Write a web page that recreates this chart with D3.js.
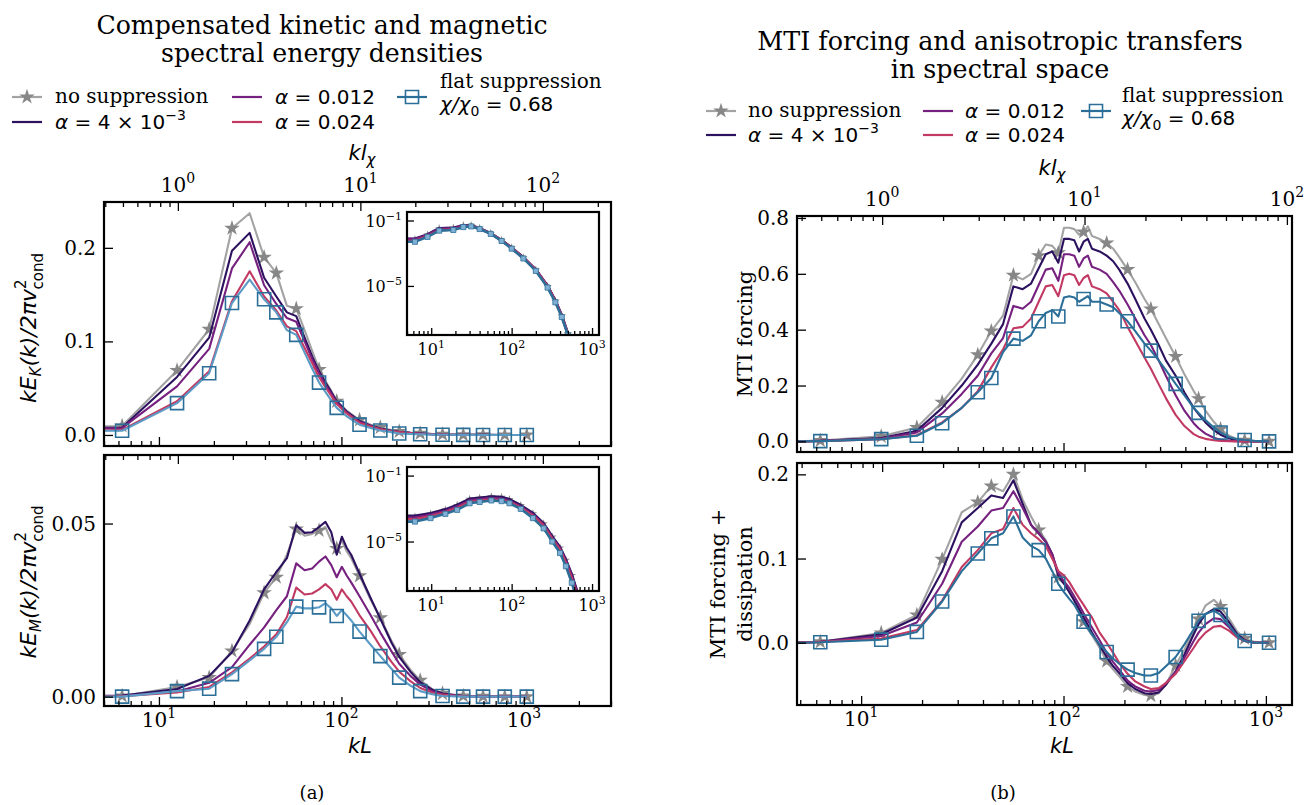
<!DOCTYPE html>
<html><head><meta charset="utf-8">
<script src="https://cdn.jsdelivr.net/npm/d3@7"></script>
<style>body{margin:0;background:#fff}svg{display:block}</style>
</head><body>
<svg id="c" width="1315" height="805"></svg>
<script>
// ---------------- DATA ----------------
// kL = 2*pi*n ; kL / (k l_chi) ratio for the secondary axis
const KL_PER_KLCHI = 12.7;
const seriesLabels = ["no suppression", "α = 4 × 10⁻³", "α = 0.012", "α = 0.024", "flat suppression χ/χ0 = 0.68"];
const markerN = [1,2,3,4,6,7,9,12,15,20,26,33,43,57,74,95,125,165];

// (a) top: compensated kinetic spectrum
const nK = [0.75,1,2,3,4,5,6,7,8,9,10,11,12,13,14,15,17,20,23,26,30,33,38,43,50,57,74,95,125,165];
const keNoSup = [0.009,0.0096,0.069,0.113,0.221,0.237,0.190,0.173,0.138,0.135,0.112,0.090,0.070,0.058,0.047,0.036,0.026,0.016,0.011,0.008,0.005,0.0038,0.0025,0.0017,0.001,0.0006,0.0002,0.0001,0,0];
const keA1 = [0.0075,0.008,0.062,0.104,0.197,0.216,0.168,0.148,0.131,0.127,0.104,0.084,0.068,0.056,0.046,0.036,0.025,0.015,0.010,0.007,0.0045,0.0033,0.0022,0.0015,0.0009,0.0005,0.0002,0.0001,0,0];
const keA2 = [0.007,0.0075,0.052,0.092,0.178,0.206,0.160,0.140,0.125,0.121,0.100,0.081,0.066,0.054,0.044,0.035,0.024,0.014,0.0095,0.0067,0.0043,0.0032,0.0021,0.0014,0.0009,0.0005,0.0002,0.0001,0,0];
const keA3 = [0.005,0.0055,0.036,0.068,0.143,0.175,0.148,0.133,0.116,0.111,0.093,0.077,0.062,0.051,0.042,0.033,0.023,0.013,0.009,0.006,0.004,0.003,0.002,0.0013,0.0008,0.0005,0.0001,0,0,0];
const keFlat = [0.0045,0.0045,0.034,0.066,0.141,0.166,0.145,0.131,0.112,0.107,0.088,0.071,0.056,0.046,0.037,0.029,0.020,0.011,0.0075,0.0048,0.003,0.0016,0.0011,0.0007,0.0004,0.0002,0.0001,0,0,0];

// (a) bottom: compensated magnetic spectrum
const nM = [0.75,1,2,3,4,5,6,7,8,9,10,11,12,13,14,15,16,17,18,20,23,26,30,33,38,43,50,57,74,95,125,165];
const kmNoSup = [0.0001,0.0002,0.0028,0.0055,0.0132,0.021,0.030,0.0345,0.041,0.0484,0.0465,0.047,0.048,0.049,0.045,0.0428,0.045,0.042,0.040,0.0349,0.028,0.0228,0.016,0.0122,0.0078,0.0047,0.0022,0.0009,0.0002,0.0001,0,0];
const kmA1 = [0.0002,0.0003,0.0022,0.0060,0.0128,0.022,0.031,0.036,0.040,0.0495,0.0473,0.0475,0.049,0.0505,0.0475,0.041,0.0462,0.043,0.041,0.0355,0.0285,0.0225,0.0155,0.0115,0.0072,0.0042,0.002,0.0009,0.0002,0.0001,0,0];
const kmA2 = [0.0001,0.0002,0.0015,0.004,0.0085,0.015,0.020,0.025,0.029,0.0385,0.0365,0.037,0.039,0.0405,0.038,0.0345,0.0375,0.035,0.033,0.029,0.0235,0.0185,0.013,0.0095,0.006,0.0035,0.0016,0.0007,0.0002,0,0,0];
const kmA3 = [0.0001,0.0001,0.0012,0.0028,0.007,0.011,0.0145,0.018,0.023,0.0315,0.0295,0.0298,0.031,0.0325,0.031,0.028,0.031,0.029,0.0275,0.0235,0.019,0.0145,0.010,0.0072,0.0045,0.0025,0.0012,0.0005,0.0001,0,0,0];
const kmFlat = [0,0,0.0016,0.0023,0.0065,0.0105,0.0138,0.0173,0.0215,0.026,0.0255,0.0255,0.0258,0.027,0.0255,0.0233,0.025,0.0235,0.022,0.0188,0.015,0.0117,0.008,0.0055,0.0032,0.0016,0.0007,0.0002,0,0,0,0];

// (b) grid
const nF = [0.75,1,2,3,4,5,6,7,8,9,10,11,12,13,14,15,16,17,18,19,20,21,22,24,26,28,30,33,36,40,43,47,51,57,63,70,74,80,88,95,105,115,125,140,165];
// (b) top: MTI forcing
const mtiNoSup = [0,0.003,0.018,0.05,0.14,0.225,0.31,0.395,0.45,0.595,0.58,0.60,0.665,0.705,0.70,0.675,0.765,0.765,0.76,0.74,0.75,0.77,0.735,0.725,0.71,0.69,0.66,0.615,0.57,0.51,0.474,0.42,0.37,0.304,0.24,0.18,0.153,0.11,0.07,0.044,0.02,0.008,0.004,0.001,0];
const mtiA1 = [0,0.002,0.012,0.038,0.12,0.2,0.275,0.35,0.42,0.555,0.545,0.565,0.62,0.67,0.68,0.64,0.725,0.725,0.72,0.68,0.715,0.725,0.69,0.68,0.665,0.645,0.615,0.565,0.51,0.44,0.40,0.345,0.29,0.235,0.175,0.12,0.098,0.068,0.04,0.024,0.01,0.004,0.0015,0,0];
const mtiA2 = [0,0.002,0.01,0.032,0.10,0.17,0.235,0.315,0.37,0.485,0.475,0.50,0.56,0.615,0.62,0.575,0.67,0.67,0.665,0.625,0.655,0.665,0.625,0.615,0.60,0.57,0.54,0.49,0.44,0.38,0.345,0.29,0.235,0.165,0.11,0.065,0.047,0.028,0.013,0.006,0.002,0.0005,0,0,0];
const mtiA3 = [0,0.001,0.008,0.022,0.068,0.12,0.18,0.265,0.33,0.405,0.41,0.44,0.50,0.555,0.56,0.52,0.595,0.60,0.595,0.56,0.585,0.595,0.555,0.545,0.53,0.50,0.47,0.41,0.36,0.30,0.26,0.205,0.155,0.095,0.055,0.026,0.017,0.009,0.004,0.0015,0.0005,0,0,0,0];
const mtiFlat = [0,0.001,0.008,0.02,0.065,0.12,0.176,0.227,0.32,0.368,0.36,0.38,0.43,0.46,0.47,0.447,0.515,0.52,0.515,0.50,0.51,0.52,0.50,0.50,0.49,0.48,0.46,0.43,0.395,0.35,0.325,0.29,0.255,0.206,0.165,0.12,0.102,0.076,0.05,0.032,0.015,0.008,0.005,0.002,0];
// (b) bottom: MTI forcing + dissipation
const dsNoSup = [0,0.001,0.0116,0.033,0.099,0.155,0.167,0.186,0.18,0.20,0.17,0.15,0.134,0.122,0.105,0.078,0.072,0.062,0.05,0.037,0.025,0.016,0.009,-0.006,-0.022,-0.032,-0.04,-0.052,-0.058,-0.062,-0.063,-0.06,-0.05,-0.027,-0.008,0.014,0.028,0.044,0.051,0.043,0.028,0.013,0.005,0.001,0];
const dsA1 = [0,0.001,0.01,0.03,0.085,0.143,0.16,0.175,0.172,0.193,0.165,0.14,0.13,0.12,0.105,0.08,0.07,0.06,0.05,0.04,0.03,0.021,0.012,-0.003,-0.017,-0.028,-0.036,-0.048,-0.055,-0.06,-0.061,-0.059,-0.05,-0.034,-0.014,0.01,0.022,0.034,0.040,0.037,0.024,0.01,0.003,0,0];
const dsA2 = [0,0.001,0.008,0.024,0.07,0.12,0.138,0.157,0.16,0.18,0.16,0.14,0.13,0.12,0.105,0.083,0.073,0.065,0.055,0.045,0.035,0.026,0.018,0.003,-0.012,-0.023,-0.032,-0.045,-0.052,-0.057,-0.058,-0.056,-0.048,-0.035,-0.018,0.002,0.012,0.022,0.029,0.028,0.018,0.007,0.002,0,0];
const dsA3 = [0,0.001,0.005,0.015,0.05,0.09,0.11,0.13,0.135,0.16,0.14,0.13,0.123,0.115,0.10,0.085,0.08,0.072,0.062,0.053,0.045,0.037,0.03,0.012,0.0,-0.012,-0.024,-0.037,-0.046,-0.052,-0.055,-0.054,-0.048,-0.037,-0.022,-0.006,0.003,0.012,0.019,0.02,0.014,0.006,0.002,0,0];
const dsFlat = [0,0.0005,0.0036,0.0128,0.049,0.085,0.106,0.124,0.13,0.15,0.125,0.115,0.11,0.10,0.085,0.07,0.06,0.052,0.045,0.035,0.025,0.017,0.01,-0.002,-0.011,-0.019,-0.025,-0.032,-0.036,-0.039,-0.039,-0.036,-0.028,-0.017,-0.002,0.016,0.026,0.034,0.038,0.033,0.02,0.008,0.002,0,0];

// insets: log10 of spectra (not compensated)
const insetKinKL = [5,6.28,9,12.57,18.85,25.1,31.4,40,55,75,100,140,200,280,350,420,500,580];
const ikNoSup = [-2.15,-2.15,-1.88,-1.49,-1.45,-1.30,-1.30,-1.47,-1.78,-2.20,-2.66,-3.27,-4.02,-5.02,-5.92,-6.82,-7.92,-9];
const ikA1 = [-2.12,-2.12,-1.85,-1.47,-1.44,-1.31,-1.31,-1.48,-1.79,-2.21,-2.66,-3.26,-4.00,-5.00,-5.90,-6.80,-7.90,-9];
const ikA2 = [-2.14,-2.14,-1.88,-1.52,-1.48,-1.33,-1.32,-1.49,-1.80,-2.22,-2.67,-3.27,-4.01,-5.01,-5.91,-6.81,-7.91,-9];
const ikA3 = [-2.25,-2.25,-1.96,-1.60,-1.55,-1.38,-1.33,-1.50,-1.80,-2.22,-2.68,-3.28,-4.03,-5.03,-5.95,-6.85,-7.95,-9];
const ikFlat = [-2.30,-2.30,-2.00,-1.62,-1.58,-1.40,-1.36,-1.52,-1.82,-2.25,-2.72,-3.32,-4.08,-5.10,-6.00,-6.90,-8.00,-9];
const insetMagKL = [5,6.28,9.8,15,21,30,40,56,75,94,130,184,250,320,400,473,560,650,720];
const imNoSup = [-3.50,-3.50,-3.32,-3.08,-2.80,-2.43,-2.36,-2.28,-2.31,-2.45,-2.81,-3.30,-3.92,-4.72,-5.38,-6.12,-7.05,-8.05,-9];
const imA1 = [-3.44,-3.44,-3.28,-3.05,-2.78,-2.41,-2.35,-2.27,-2.30,-2.44,-2.80,-3.28,-3.90,-4.70,-5.35,-6.10,-7.00,-8.00,-9];
const imA2 = [-3.55,-3.55,-3.38,-3.15,-2.88,-2.50,-2.44,-2.37,-2.40,-2.53,-2.88,-3.36,-3.98,-4.78,-5.43,-6.18,-7.10,-8.10,-9];
const imA3 = [-3.65,-3.65,-3.47,-3.22,-2.96,-2.60,-2.52,-2.46,-2.48,-2.60,-2.95,-3.44,-4.06,-4.86,-5.52,-6.30,-7.25,-8.30,-9];
const imFlat = [-3.79,-3.79,-3.58,-3.32,-3.08,-2.68,-2.60,-2.51,-2.55,-2.68,-3.02,-3.58,-4.20,-5.00,-5.70,-6.50,-7.50,-8.60,-9];

// ---------------- STYLE ----------------
const SERIF = "'DejaVu Serif', serif", SANS = "'DejaVu Sans', sans-serif";
const C = {gray:"#a3a3a3", star:"#878787", a1:"#2c115f", a2:"#76207f", a3:"#c23a63", flat:"#2b6f99", flatL:"#5b9bc6"};

const svg = d3.select("#c");
let clipId = 0;

function logTicks(dom){
  const lo = Math.floor(Math.log10(dom[0])), hi = Math.ceil(Math.log10(dom[1]));
  const maj=[], min=[];
  for(let e=lo;e<=hi;e++) for(let m=1;m<=9;m++){
    const v = m*Math.pow(10,e);
    if(v>=dom[0]*0.9999 && v<=dom[1]*1.0001) (m===1?maj:min).push(v);
  }
  return {maj,min};
}
function supLabel(sel, base, exp, fs, efs, edy){
  sel.text(null);
  sel.append("tspan").text(base);
  sel.append("tspan").attr("dy",edy).attr("font-size",efs).text(exp);
}
function drawTicks(g, axisFn, scale, vals, size, yOff){
  const a = axisFn(scale).tickValues(vals).tickSizeInner(size).tickSizeOuter(0).tickFormat(()=> "");
  const ag = g.append("g").attr("transform", yOff).call(a);
  ag.select(".domain").remove();
  ag.selectAll("line").attr("stroke","#000").attr("stroke-width",1.3);
  ag.selectAll("text").remove();
  return ag;
}
function starSym(size){ return d3.symbol(d3.symbolStar, size)(); }
function sqSym(size){ return d3.symbol(d3.symbolSquare, size)(); }

function drawPanel(o){
  const g = svg.append("g");
  const x = d3.scaleLog().domain(o.xdom).range([o.x0,o.x1]);
  const y = d3.scaleLinear().domain(o.ydom).range([o.y1,o.y0]);
  const xt = d3.scaleLog().domain([o.xdom[0]/KL_PER_KLCHI, o.xdom[1]/KL_PER_KLCHI]).range([o.x0,o.x1]);
  const id = "clip"+(clipId++);
  svg.append("clipPath").attr("id",id).append("rect").attr("x",o.x0).attr("y",o.y0).attr("width",o.x1-o.x0).attr("height",o.y1-o.y0);
  const pg = g.append("g").attr("clip-path",`url(#${id})`);
  const line = d3.line().x(d=>x(2*Math.PI*d[0])).y(d=>y(d[1]));
  o.series.forEach(s=>{
    const pts = o.grid.map((n,i)=>[n,s.vals[i]]);
    pg.append("path").attr("d",line(pts)).attr("fill","none").attr("stroke",s.lineColor)
      .attr("stroke-width",2.1).attr("stroke-linejoin","round").attr("opacity",s.opacity||1);
    if(s.marker){
      const mp = pts.filter(p=>markerN.includes(p[0]));
      pg.selectAll(null).data(mp).enter().append("path")
        .attr("transform",p=>`translate(${x(2*Math.PI*p[0])},${y(p[1])})`)
        .attr("d", s.marker==="star"? starSym(75) : sqSym(170))
        .attr("fill", s.marker==="star"? C.star : "none")
        .attr("stroke", s.marker==="star"? "none" : C.flat)
        .attr("stroke-width",1.6);
    }
  });
  // ticks
  const lt = logTicks(o.xdom), ltt = logTicks(xt.domain());
  drawTicks(g, d3.axisBottom, x, lt.maj, -9, `translate(0,${o.y1})`);
  drawTicks(g, d3.axisBottom, x, lt.min, -5, `translate(0,${o.y1})`);
  drawTicks(g, d3.axisTop, xt, ltt.maj, -9, `translate(0,${o.y0})`);
  drawTicks(g, d3.axisTop, xt, ltt.min, -5, `translate(0,${o.y0})`);
  drawTicks(g, d3.axisLeft, y, o.yticks, -9, `translate(${o.x0},0)`);
  // y labels
  o.yticks.forEach(v=>{
    g.append("text").attr("x",o.x0-8).attr("y",y(v)+7).attr("text-anchor","end")
      .attr("font-family",SERIF).attr("font-size",20).text(d3.format(o.yfmt)(v));
  });
  if(o.xLabels){
    lt.maj.forEach(v=>{
      const t = g.append("text").attr("x",x(v)).attr("y",o.y1+21).attr("text-anchor","middle")
        .attr("font-family",SERIF).attr("font-size",20);
      supLabel(t,"10",String(Math.round(Math.log10(v))),20,14,-9);
    });
  }
  if(o.topLabels){
    ltt.maj.forEach(v=>{
      const t = g.append("text").attr("x",xt(v)).attr("y",o.y0-10).attr("text-anchor","middle")
        .attr("font-family",SERIF).attr("font-size",20);
      supLabel(t,"10",String(Math.round(Math.log10(v))),20,14,-9);
    });
  }
  g.append("rect").attr("x",o.x0).attr("y",o.y0).attr("width",o.x1-o.x0).attr("height",o.y1-o.y0)
    .attr("fill","none").attr("stroke","#000").attr("stroke-width",2.2);
  return {x,y};
}

function drawInset(o){
  const g = svg.append("g");
  const x = d3.scaleLog().domain([5,1220]).range([o.x0,o.x1]);
  const y = d3.scaleLog().domain([1e-8, Math.pow(10,-0.48)]).range([o.y1,o.y0]);
  g.append("rect").attr("x",o.x0).attr("y",o.y0).attr("width",o.x1-o.x0).attr("height",o.y1-o.y0).attr("fill","#fff");
  const id = "clip"+(clipId++);
  svg.append("clipPath").attr("id",id).append("rect").attr("x",o.x0).attr("y",o.y0).attr("width",o.x1-o.x0).attr("height",o.y1-o.y0);
  const pg = g.append("g").attr("clip-path",`url(#${id})`);
  const line = d3.line().x(d=>x(d[0])).y(d=>y(Math.pow(10,d[1])));
  o.series.forEach(s=>{
    const pts = o.grid.map((k,i)=>[k,s.vals[i]]);
    pg.append("path").attr("d",line(pts)).attr("fill","none").attr("stroke",s.lineColor)
      .attr("stroke-width",2.6).attr("stroke-linejoin","round");
    if(s.marker){
      pg.selectAll(null).data(pts.slice(1)).enter().append("path")
        .attr("transform",p=>`translate(${x(p[0])},${y(Math.pow(10,p[1]))})`)
        .attr("d", s.marker==="star"? starSym(22) : sqSym(26))
        .attr("fill", s.marker==="star"? C.star : "#7fb0d3")
        .attr("stroke", s.marker==="star"? "none" : C.flat).attr("stroke-width",0.8);
    }
  });
  const lt = logTicks(x.domain());
  drawTicks(g, d3.axisBottom, x, lt.maj, -7, `translate(0,${o.y1})`);
  drawTicks(g, d3.axisBottom, x, lt.min, -4, `translate(0,${o.y1})`);
  drawTicks(g, d3.axisLeft, y, [1e-1,1e-5], -7, `translate(${o.x0},0)`);
  lt.maj.forEach(v=>{
    const t = g.append("text").attr("x",x(v)).attr("y",o.y1+20).attr("text-anchor","middle")
      .attr("font-family",SERIF).attr("font-size",16);
    supLabel(t,"10",String(Math.round(Math.log10(v))),16,11,-7);
  });
  [1e-1,1e-5].forEach(v=>{
    const t = g.append("text").attr("x",o.x0-5).attr("y",y(v)+6).attr("text-anchor","end")
      .attr("font-family",SERIF).attr("font-size",16);
    supLabel(t,"10","−"+String(Math.round(-Math.log10(v))),16,11,-7);
  });
  g.append("rect").attr("x",o.x0).attr("y",o.y0).attr("width",o.x1-o.x0).attr("height",o.y1-o.y0)
    .attr("fill","none").attr("stroke","#000").attr("stroke-width",2.2);
}

function mk(vals, key, opts={}){
  const base = {
    gray:{lineColor:C.gray, marker:"star"}, a1:{lineColor:C.a1}, a2:{lineColor:C.a2},
    a3:{lineColor:C.a3}, flat:{lineColor:C.flat, marker:"square"}
  }[key];
  return Object.assign({vals}, base, opts);
}

// ---------- panel (a) ----------
const LA = {x0:104, x1:611, xdom:[5.0,3000]};
drawPanel(Object.assign({}, LA, {y0:202, y1:446, ydom:[-0.0118,0.249], yticks:[0,0.1,0.2], yfmt:".1f",
  grid:nK, topLabels:true, xLabels:false,
  series:[mk(keNoSup,"gray"),mk(keA1,"a1"),mk(keA2,"a2"),mk(keA3,"a3"),mk(keFlat,"flat",{lineColor:C.flatL})]}));
drawPanel(Object.assign({}, LA, {y0:455, y1:706, ydom:[-0.0027,0.0698], yticks:[0,0.05], yfmt:".2f",
  grid:nM, topLabels:false, xLabels:true,
  series:[mk(kmNoSup,"gray"),mk(kmA1,"a1"),mk(kmA2,"a2"),mk(kmA3,"a3"),mk(kmFlat,"flat",{lineColor:C.flatL})]}));
drawInset({x0:407,x1:599,y0:212,y1:335, grid:insetKinKL,
  series:[mk(ikNoSup,"gray"),mk(ikA1,"a1"),mk(ikA2,"a2"),mk(ikA3,"a3"),mk(ikFlat,"flat")]});
drawInset({x0:407,x1:599,y0:467,y1:591, grid:insetMagKL,
  series:[mk(imNoSup,"gray"),mk(imA1,"a1"),mk(imA2,"a2"),mk(imA3,"a3"),mk(imFlat,"flat")]});

// ---------- panel (b) ----------
const RB = {x0:797, x1:1292, xdom:[4.82,1346]};
drawPanel(Object.assign({}, RB, {y0:216, y1:452, ydom:[-0.038,0.807], yticks:[0,0.2,0.4,0.6,0.8], yfmt:".1f",
  grid:nF, topLabels:true, xLabels:false,
  series:[mk(mtiNoSup,"gray"),mk(mtiA1,"a1"),mk(mtiA2,"a2"),mk(mtiA3,"a3"),mk(mtiFlat,"flat")]}));
drawPanel(Object.assign({}, RB, {y0:463, y1:705, ydom:[-0.074,0.2135], yticks:[0,0.1,0.2], yfmt:".1f",
  grid:nF, topLabels:false, xLabels:true,
  series:[mk(dsNoSup,"gray"),mk(dsA1,"a1"),mk(dsA2,"a2"),mk(dsA3,"a3"),mk(dsFlat,"flat")]}));

// ---------- texts ----------
function txt(x,y,s,o={}){
  return svg.append("text").attr("x",x).attr("y",y).attr("font-family",o.ff||SERIF)
    .attr("font-size",o.fs||20).attr("text-anchor",o.anchor||"start").text(s);
}
txt(322,34,"Compensated kinetic and magnetic",{fs:25.2,anchor:"middle"});
txt(322,62,"spectral energy densities",{fs:25.2,anchor:"middle"});
txt(1000,50,"MTI forcing and anisotropic transfers",{fs:25.4,anchor:"middle"});
txt(1000,78,"in spectral space",{fs:25.4,anchor:"middle"});
txt(312,799,"(a)",{fs:18,anchor:"middle"});
txt(1003,799,"(b)",{fs:18,anchor:"middle"});

// axis labels
function klchi(x,y){
  const t = svg.append("text").attr("x",x).attr("y",y).attr("font-family",SANS).attr("font-size",21)
    .attr("font-style","italic").attr("text-anchor","middle");
  t.append("tspan").text("kl");
  t.append("tspan").attr("dy",5).attr("font-size",15).text("χ");
}
klchi(362,160); klchi(1052,175);
function kL(x,y){
  svg.append("text").attr("x",x).attr("y",y).attr("font-family",SANS).attr("font-size",21)
    .attr("font-style","italic").attr("text-anchor","middle").text("kL");
}
kL(360,753); kL(1062,753);

function specLabel(cx,cy,sub){
  const t = svg.append("text").attr("transform",`translate(${cx},${cy}) rotate(-90)`)
    .attr("font-family",SANS).attr("font-size",22).attr("text-anchor","middle");
  t.append("tspan").attr("font-style","italic").text("kE");
  t.append("tspan").attr("font-style","italic").attr("font-size",15).attr("dy",5).text(sub);
  t.append("tspan").attr("font-style","italic").attr("dy",-5).text("(k)/2πv");
  t.append("tspan").attr("font-size",15).attr("dy",-10).text("2");
  t.append("tspan").attr("font-size",15).attr("dx",-10).attr("dy",17).text("cond");
}
specLabel(36,328,"K"); specLabel(36,582,"M");
function rot(cx,cy,s){
  svg.append("text").attr("transform",`translate(${cx},${cy}) rotate(-90)`)
    .attr("font-family",SERIF).attr("font-size",21).attr("text-anchor","middle").text(s);
}
rot(752,334,"MTI forcing");
rot(725,584,"MTI forcing +");
rot(752,584,"dissipation");

// ---------- legends ----------
function legend(cols, texts, rows){
  const [r1,r2] = rows;
  const items = [
    {c:0,r:r1,color:C.gray,marker:"star",label:"no suppression",kind:"serif"},
    {c:0,r:r2,color:C.a1,label:"a1",kind:"alpha"},
    {c:1,r:r1,color:C.a2,label:"0.012",kind:"alpha"},
    {c:1,r:r2,color:C.a3,label:"0.024",kind:"alpha"}
  ];
  items.forEach(it=>{
    const x0 = cols[it.c];
    svg.append("line").attr("x1",x0).attr("x2",x0+30).attr("y1",it.r).attr("y2",it.r)
      .attr("stroke",it.color).attr("stroke-width",2.2);
    if(it.marker) svg.append("path").attr("transform",`translate(${x0+15},${it.r})`).attr("d",starSym(75)).attr("fill",C.star);
    const tx = texts[it.c];
    if(it.kind==="serif"){ txt(tx,it.r+6,it.label,{fs:20}); }
    else {
      const t = svg.append("text").attr("x",tx).attr("y",it.r+7).attr("font-family",SANS).attr("font-size",20);
      t.append("tspan").attr("font-style","italic").text("α");
      if(it.label==="a1"){
        t.append("tspan").text(" = 4 × 10");
        t.append("tspan").attr("font-size",14).attr("dy",-9).text("−3");
      } else t.append("tspan").text(" = "+it.label);
    }
  });
  const x0 = cols[2];
  svg.append("line").attr("x1",x0).attr("x2",x0+30).attr("y1",r1).attr("y2",r1).attr("stroke",C.flat).attr("stroke-width",2.2);
  svg.append("path").attr("transform",`translate(${x0+15},${r1})`).attr("d",sqSym(170)).attr("fill","none").attr("stroke",C.flat).attr("stroke-width",1.6);
  txt(texts[2], r1-9, "flat suppression",{fs:20});
  const t = svg.append("text").attr("x",texts[2]).attr("y",r1+14).attr("font-family",SANS).attr("font-size",20);
  t.append("tspan").attr("font-style","italic").text("χ/χ");
  t.append("tspan").attr("font-size",14).attr("dy",5).text("0");
  t.append("tspan").attr("dy",-5).text(" = 0.68");
}
legend([12,232,397],[55,275,440],[97,122]);
legend([706,923,1081],[748,965,1122],[111,135]);
</script>
</body></html>
